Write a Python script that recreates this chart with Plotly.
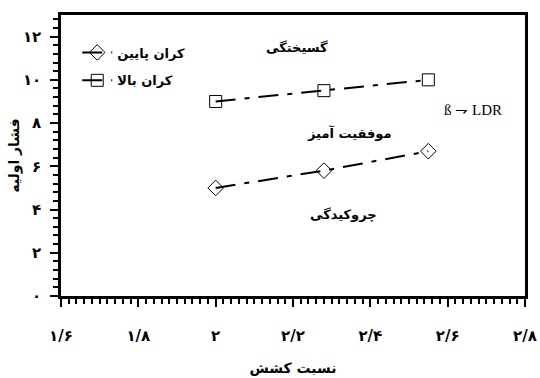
import plotly.graph_objects as go

# draw ratio vs initial pressure, lower / upper bound
ldr = [2.0, 2.28, 2.55]
lower_bound = [5.0, 5.8, 6.7]
upper_bound = [9.0, 9.5, 10.0]

x_labels = {"1.6": "۱/۶", "1.8": "۱/۸", "2": "۲", "2.2": "۲/۲",
            "2.4": "۲/۴", "2.6": "۲/۶", "2.8": "۲/۸"}
y_labels = {"0": "۰", "2": "۲", "4": "۴", "6": "۶", "8": "۸", "10": "۱۰", "12": "۱۲"}

FA = "DejaVu Sans"
dash = "20px,9px,5px,9px"

fig = go.Figure()
fig.add_trace(go.Scatter(
    x=ldr, y=lower_bound, name="کران پایین", legendgroup="a",
    mode="lines+markers",
    line=dict(color="black", width=2, dash=dash),
    marker=dict(symbol="diamond-open", size=12, color="black", line=dict(width=1)),
))
fig.add_trace(go.Scatter(
    x=ldr, y=upper_bound, name="کران بالا", legendgroup="b",
    mode="lines+markers",
    line=dict(color="black", width=2, dash=dash),
    marker=dict(symbol="square-open", size=12, color="black", line=dict(width=1)),
))

ann_font = dict(family=FA, size=13, color="black", weight="bold")
fig.add_annotation(x=2.21, y=11.5, text="گسیختگی", showarrow=False, font=ann_font)
fig.add_annotation(x=2.345, y=7.55, text="موفقیت آمیز", showarrow=False, font=ann_font)
fig.add_annotation(x=2.33, y=3.75, text="چروکیدگی", showarrow=False, font=ann_font)
fig.add_annotation(x=2.665, y=8.6, text="ß ⇁ LDR", showarrow=False,
                   font=dict(family="Liberation Serif", size=15, color="black"))

tick_font = dict(family=FA, size=15, color="black", weight="bold")
title_font = dict(family=FA, size=14, color="black", weight="bold")
fig.update_layout(
    width=540, height=378,
    margin=dict(l=61, r=15, t=15, b=82),
    paper_bgcolor="white", plot_bgcolor="white",
    showlegend=True,
    legend=dict(x=0.035, y=0.92, xanchor="left", yanchor="top",
                font=dict(family=FA, size=13, color="black", weight="bold"),
                bgcolor="rgba(0,0,0,0)", tracegroupgap=8),
    xaxis=dict(
        range=[1.6, 2.8], tickmode="linear", tick0=1.6, dtick=0.2, labelalias=x_labels,
        ticks="outside", ticklen=8, tickwidth=2, tickcolor="black",
        minor=dict(dtick=0.02, tick0=1.6, ticks="outside", ticklen=5, tickwidth=1.5, tickcolor="black"),
        showline=True, linewidth=2.5, linecolor="black", mirror=True,
        showgrid=False, zeroline=False, tickfont=tick_font, ticklabelstandoff=16,
        ticklabeloverflow="allow", automargin=False,
        title=dict(text="نسبت کشش", font=title_font, standoff=20),
    ),
    yaxis=dict(
        range=[0, 13], tickmode="linear", tick0=0, dtick=2, labelalias=y_labels,
        ticks="outside", ticklen=8, tickwidth=2, tickcolor="black",
        minor=dict(dtick=0.4, tick0=0, ticks="outside", ticklen=5, tickwidth=1.5, tickcolor="black"),
        showline=True, linewidth=2.5, linecolor="black", mirror=True,
        showgrid=False, zeroline=False, tickfont=tick_font, ticklabelstandoff=6,
        automargin=False,
        title=dict(text="فشار اولیه", font=title_font, standoff=1),
    ),
)

# drop the default 8px body margin so the figure sits at the page corner
fig.write_html("out.html", config={"displayModeBar": False},
               post_script="document.body.style.margin='0';")
